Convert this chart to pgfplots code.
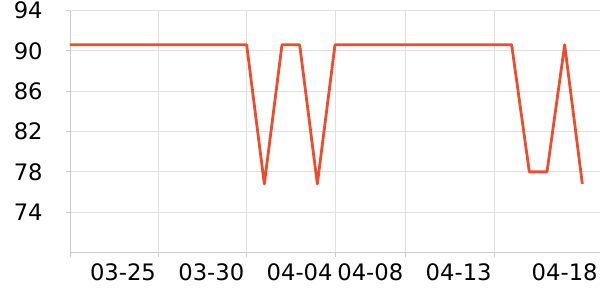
\documentclass[border=0pt]{standalone}
\usepackage{fontspec}
\setmainfont{DejaVu Sans}
\usepackage{pgfplots}
\pgfplotsset{compat=1.18}
\definecolor{lineC}{RGB}{238,77,45}
\definecolor{gridC}{RGB}{224,224,224}
\definecolor{axisC}{RGB}{205,205,205}
\begin{document}
\begin{tikzpicture}
\useasboundingbox (-52.5pt,-35.8pt) rectangle (397.5pt,189.4pt);
\begin{axis}[
  at={(0,0)}, anchor=south west,
  scale only axis, width=397.5pt, height=181.5pt,
  xmin=0, xmax=30, ymin=70, ymax=94,
  axis lines*=left,
  axis line style={axisC, line width=0.7pt},
  xtick={0,5,10,15,19,24}, xticklabels={},
  extra x ticks={3,8,13,17,22,28},
  extra x tick labels={03-25,03-30,04-04,04-08,04-13,04-18},
  extra x tick style={major tick length=0pt, grid=none,
     tick style={draw=none},
     tick label style={yshift=-5pt}},
  ytick={74,78,82,86,90,94},
  xmajorgrids, ymajorgrids,
  grid style={gridC, line width=0.6pt},
  major tick length=3pt,
  tick style={axisC, line width=0.6pt},
  xtick pos=lower, ytick pos=left,
  tick align=outside,
  /pgf/number format/assume math mode=true,
  tick label style={font=\fontsize{17}{19}\selectfont, text=black},
  yticklabel style={xshift=-14pt},
  clip=false,
]
\addplot[lineC, line width=2.1pt, line join=round, mark=none] coordinates {
(0,90.6)(1,90.6)(2,90.6)(3,90.6)(4,90.6)(5,90.6)(6,90.6)(7,90.6)(8,90.6)(9,90.6)(10,90.6)
(11,76.8)(12,90.6)(13,90.6)(14,76.8)(15,90.6)
(16,90.6)(17,90.6)(18,90.6)(19,90.6)(20,90.6)(21,90.6)(22,90.6)(23,90.6)(24,90.6)(25,90.6)
(26,78)(27,78)(28,90.6)(29,76.8)
};
\end{axis}
\end{tikzpicture}
\end{document}
